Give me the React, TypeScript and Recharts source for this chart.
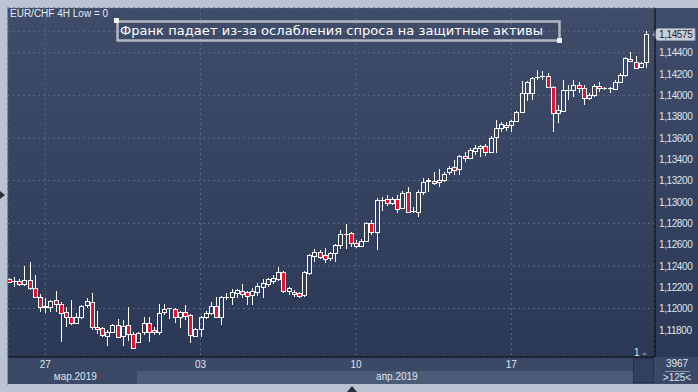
import { Bar, CartesianGrid, ComposedChart, ReferenceLine, XAxis, YAxis } from "recharts";

// EUR/CHF 4H candles (oldest first)
const openPrices = [
  1.12278, 1.12259, 1.12259, 1.12231, 1.12269, 1.12194, 1.12109, 1.12016, 1.12016, 1.12081,
  1.12044, 1.11969, 1.11922, 1.11866, 1.11922, 1.12034, 1.12063, 1.11828, 1.11819, 1.11744,
  1.11781, 1.11847, 1.11744, 1.11847, 1.11763, 1.11688, 1.11781, 1.11866, 1.118, 1.11781,
  1.11969, 1.12006, 1.11997, 1.11922, 1.11969, 1.11941, 1.11744, 1.11809, 1.11922, 1.11959,
  1.12025, 1.11922, 1.12109, 1.12109, 1.12147, 1.12166, 1.12156, 1.12128, 1.12156, 1.12203,
  1.12231, 1.12259, 1.12278, 1.12344, 1.12166, 1.12156, 1.12147, 1.12128, 1.12334, 1.12494,
  1.12531, 1.12503, 1.12475, 1.12522, 1.12597, 1.127, 1.12709, 1.12616, 1.12588, 1.12634,
  1.12803, 1.12719, 1.13019, 1.13028, 1.12991, 1.13028, 1.12944, 1.13094, 1.12916, 1.12906,
  1.13094, 1.13197, 1.13197, 1.13188, 1.13206, 1.13281, 1.13328, 1.13309, 1.13431, 1.13413,
  1.13478, 1.13506, 1.13525, 1.13469, 1.13609, 1.13694, 1.13722, 1.13722, 1.13759, 1.13844,
  1.14022, 1.14022, 1.14172, 1.14181, 1.14181, 1.14078, 1.13834, 1.13853, 1.1405, 1.1405,
  1.14097, 1.14069, 1.13975, 1.14003, 1.14088, 1.14069, 1.14069, 1.14059, 1.14125, 1.14191,
  1.14341, 1.14313, 1.14266, 1.14313,
];
const highPrices = [
  1.12288, 1.12297, 1.12278, 1.124, 1.12438, 1.12316, 1.12138, 1.121, 1.12081, 1.12166,
  1.12063, 1.12016, 1.12081, 1.11959, 1.12034, 1.121, 1.12147, 1.11978, 1.11828, 1.118,
  1.11856, 1.11903, 1.11894, 1.12016, 1.11781, 1.11781, 1.11922, 1.11922, 1.11828, 1.12044,
  1.12044, 1.1201, 1.12006, 1.11978, 1.12034, 1.1195, 1.11819, 1.11931, 1.11978, 1.12063,
  1.12109, 1.12119, 1.12147, 1.12184, 1.12184, 1.12231, 1.12166, 1.12194, 1.12241, 1.12278,
  1.12288, 1.12316, 1.12391, 1.1235, 1.12203, 1.12175, 1.12156, 1.12353, 1.12513, 1.12559,
  1.1255, 1.12569, 1.12531, 1.12606, 1.12738, 1.12794, 1.12719, 1.12644, 1.12653, 1.12813,
  1.12831, 1.13038, 1.13047, 1.13066, 1.13047, 1.13066, 1.13103, 1.13141, 1.12953, 1.13113,
  1.13225, 1.13225, 1.13281, 1.13309, 1.13281, 1.13338, 1.13394, 1.13441, 1.13469, 1.13506,
  1.13534, 1.13534, 1.13544, 1.13619, 1.13769, 1.1375, 1.1375, 1.13769, 1.13853, 1.14134,
  1.14134, 1.14172, 1.14238, 1.14228, 1.14209, 1.14088, 1.13909, 1.14144, 1.14097, 1.14144,
  1.14125, 1.14097, 1.14022, 1.14106, 1.14125, 1.14078, 1.14078, 1.14144, 1.14209, 1.14359,
  1.14406, 1.14369, 1.14313, 1.14603,
];
const lowPrices = [
  1.12241, 1.12203, 1.12213, 1.12213, 1.12175, 1.121, 1.11969, 1.11959, 1.11969, 1.11969,
  1.11688, 1.11828, 1.11847, 1.11856, 1.11903, 1.12006, 1.118, 1.11763, 1.11734, 1.1165,
  1.11772, 1.11725, 1.1165, 1.11697, 1.11622, 1.1168, 1.11753, 1.11688, 1.11753, 1.11753,
  1.11941, 1.11903, 1.11866, 1.11819, 1.11894, 1.11678, 1.11734, 1.11734, 1.11903, 1.11941,
  1.11913, 1.11847, 1.12081, 1.12034, 1.121, 1.121, 1.12034, 1.12034, 1.12119, 1.121,
  1.12203, 1.12231, 1.12259, 1.12147, 1.12128, 1.12109, 1.121, 1.12109, 1.12316, 1.12438,
  1.12466, 1.12428, 1.12447, 1.12438, 1.12559, 1.12559, 1.12578, 1.12569, 1.12578, 1.12625,
  1.12691, 1.1255, 1.12916, 1.12963, 1.12972, 1.12897, 1.12934, 1.12897, 1.12897, 1.12859,
  1.13066, 1.13094, 1.13159, 1.13141, 1.13188, 1.13253, 1.13253, 1.13253, 1.13375, 1.13403,
  1.13441, 1.13422, 1.13431, 1.13459, 1.13459, 1.13656, 1.13666, 1.13656, 1.1375, 1.1384,
  1.13947, 1.13956, 1.14144, 1.14144, 1.14069, 1.13656, 1.13741, 1.13844, 1.13956, 1.13984,
  1.14022, 1.13909, 1.13956, 1.13984, 1.14031, 1.1405, 1.14022, 1.1405, 1.14116, 1.14172,
  1.14313, 1.14256, 1.14256, 1.14256,
];
const closePrices = [
  1.1225, 1.12259, 1.12231, 1.12269, 1.12194, 1.12109, 1.12016, 1.12025, 1.12072, 1.12044,
  1.11959, 1.11922, 1.11866, 1.11922, 1.12025, 1.12072, 1.11828, 1.11809, 1.11753, 1.11781,
  1.11847, 1.11734, 1.11838, 1.11763, 1.11631, 1.11772, 1.11866, 1.11781, 1.11781, 1.11959,
  1.11997, 1.12006, 1.11922, 1.11969, 1.11931, 1.11753, 1.11809, 1.11922, 1.11959, 1.12025,
  1.11922, 1.12109, 1.12109, 1.12156, 1.12175, 1.12138, 1.12119, 1.12166, 1.12213, 1.12241,
  1.12278, 1.12288, 1.12344, 1.12166, 1.12194, 1.12138, 1.12119, 1.12344, 1.12503, 1.12531,
  1.12484, 1.12466, 1.12522, 1.12597, 1.127, 1.127, 1.12616, 1.12588, 1.12634, 1.12803,
  1.12719, 1.13019, 1.13019, 1.12991, 1.13028, 1.12934, 1.13084, 1.12906, 1.12916, 1.13094,
  1.13188, 1.13206, 1.13178, 1.13206, 1.13263, 1.13319, 1.133, 1.13431, 1.13413, 1.13488,
  1.13506, 1.13525, 1.13469, 1.136, 1.13694, 1.13731, 1.13703, 1.13759, 1.13844, 1.14022,
  1.14125, 1.14163, 1.14172, 1.14181, 1.14078, 1.13834, 1.13863, 1.1405, 1.1405, 1.14097,
  1.14069, 1.13975, 1.14003, 1.14088, 1.14069, 1.14069, 1.14069, 1.14125, 1.14191, 1.1435,
  1.14322, 1.14256, 1.14303, 1.14575,
];

const dayTicks = [7, 37, 67, 97];
const dayLabels = ["27", "03", "10", "17"];
const monthTicks = [12.8, 74.9];
const monthLabels = ["мар.2019", "апр.2019"];
const priceTicks = [
  1.118, 1.12, 1.122, 1.124, 1.126, 1.128, 1.13, 1.132, 1.134, 1.136, 1.138, 1.14, 1.142, 1.144, 1.146,
];
const lastPrice = 1.14575;

const candles = openPrices.map((open, i) => ({
  i,
  open,
  high: highPrices[i],
  low: lowPrices[i],
  close: closePrices[i],
  range: [lowPrices[i], highPrices[i]],
}));

const FONT = "'Liberation Sans', Arial, sans-serif";
const LABEL = "#dfe5ee";
const fmtPrice = (v: number) => v.toFixed(5).replace(".", ",");

function Candle(props: any) {
  const { x, y, width, height, payload } = props;
  const { open, close, high, low } = payload;
  const k = height / (high - low);
  const cx = Math.round(x + width / 2) + 0.5;
  const top = Math.round(y + (high - Math.max(open, close)) * k);
  const bot = Math.round(y + (high - Math.min(open, close)) * k);
  const yHigh = Math.round(y);
  const yLow = Math.round(y + height);
  const up = close >= open;
  const doji = bot - top < 1;
  return (
    <g>
      {top > yHigh && <line x1={cx} x2={cx} y1={yHigh} y2={top} stroke="#fff" />}
      {yLow > bot && <line x1={cx} x2={cx} y1={bot} y2={yLow} stroke="#fff" />}
      {doji ? (
        <line x1={cx - 2.5} x2={cx + 2.5} y1={top + 0.5} y2={top + 0.5} stroke="#fff" />
      ) : (
        <rect
          x={cx - 2}
          y={top + 0.5}
          width={4}
          height={bot - top}
          fill={up ? "none" : "#e8102e"}
          stroke="#fff"
        />
      )}
    </g>
  );
}

// last-price flag on the right scale
function PriceFlag(props: any) {
  const vb = props.viewBox || {};
  const yy = Math.round(vb.y) + 0.5;
  const x0 = vb.x + vb.width + 2;
  return (
    <g>
      <polygon
        points={`${x0 - 4},${yy} ${x0},${yy - 6} ${x0 + 38},${yy - 6} ${x0 + 38},${yy + 6} ${x0},${yy + 6}`}
        fill="#c9ced7"
        stroke="#8e96a6"
      />
      <text x={x0 + 2} y={yy + 3.5} fontSize={10} letterSpacing={-0.4} fontFamily={FONT} fill="#1c2232">
        {fmtPrice(lastPrice)}
      </text>
    </g>
  );
}

export default function App() {
  return (
    <div style={{ position: "absolute", left: 0, top: 0, width: 698, height: 392, background: "#b9c3d1", overflow: "hidden" }}>
      {/* panels behind the chart */}
      <div style={{ position: "absolute", left: 8, top: 8, width: 690, height: 349, background: "linear-gradient(#3f4c6a, #2b3856)" }} />
      <div style={{ position: "absolute", left: 8, top: 357, width: 690, height: 27, background: "#3b4866" }} />
      <div style={{ position: "absolute", left: 137, top: 371, width: 496, height: 13, background: "#4b5a77" }} />
      <div style={{ position: "absolute", left: 633, top: 358, width: 21, height: 25, background: "#33405d", border: "1px solid #26304a", boxSizing: "border-box" }} />
      <div style={{ position: "absolute", left: 7, top: 7, width: 1, height: 378, background: "#8a94a6" }} />

      <div style={{ position: "absolute", left: 0, top: 0 }}>
        <ComposedChart width={698} height={392} data={candles} margin={{ top: 8, right: 0, bottom: 8, left: 8 }}>
          <CartesianGrid stroke="#5a6989" strokeDasharray="2 3" />
          <XAxis
            dataKey="i"
            type="number"
            domain={[-0.19, 124.74]}
            allowDataOverflow
            ticks={dayTicks}
            tickFormatter={(v) => dayLabels[dayTicks.indexOf(v)] ?? ""}
            height={14}
            tickSize={0}
            tickMargin={4}
            axisLine={{ stroke: "#000" }}
            tick={{ fill: LABEL, fontSize: 10, fontFamily: FONT }}
          />
          <XAxis
            xAxisId="month"
            dataKey="i"
            type="number"
            domain={[-0.19, 124.74]}
            allowDataOverflow
            ticks={monthTicks}
            tickFormatter={(v) => monthLabels[monthTicks.indexOf(v)] ?? ""}
            height={13}
            tickSize={0}
            tickMargin={2}
            axisLine={false}
            tick={{ fill: LABEL, fontSize: 10, fontFamily: FONT }}
          />
          <YAxis
            orientation="right"
            type="number"
            domain={[1.115469, 1.148186]}
            allowDataOverflow
            ticks={priceTicks}
            tickFormatter={(v) => (Number(v) > lastPrice ? "" : fmtPrice(Number(v)))}
            width={43}
            tickSize={0}
            tickMargin={4}
            axisLine={{ stroke: "#000" }}
            tick={{ fill: LABEL, fontSize: 10, fontFamily: FONT, textAnchor: "start", letterSpacing: -0.4 }}
          />
          <Bar dataKey="range" barSize={5} shape={<Candle />} isAnimationActive={false} />
          <ReferenceLine y={lastPrice} stroke="none" ifOverflow="visible" label={<PriceFlag />} />
        </ComposedChart>
      </div>

      {/* chart furniture drawn on top */}
      <svg width={698} height={392} style={{ position: "absolute", left: 0, top: 0, pointerEvents: "none" }}>
        <text x={10} y={17} fontSize={10} fontFamily={FONT} fill="#e6ebf3">EUR/CHF 4H Low = 0</text>
        <rect x={117.5} y={21.5} width={442} height={19} fill="none" stroke="#b4b8c2" strokeWidth={2.5} />
        <rect x={114} y={18} width={5} height={5} fill="#f2f2f2" />
        <rect x={557} y={38} width={5} height={5} fill="#f2f2f2" />
        <text x={120} y={35} fontSize={13} fontFamily="'DejaVu Sans', sans-serif" fill="#ffffff" textLength={423} lengthAdjust="spacing">
          Франк падает из-за ослабления спроса на защитные активы
        </text>
        <text x={634} y={356} fontSize={10} fontFamily={FONT} fill={LABEL}>1</text>
        <polygon points="642,355 644.5,352 647,355" fill="#6f7b92" />
        <text x={677} y={367} fontSize={10} fontFamily={FONT} fill={LABEL} textAnchor="middle">3967</text>
        <line x1={665} x2={690} y1={371.5} y2={371.5} stroke="#8c98ae" />
        <text x={677} y={381} fontSize={10} fontFamily={FONT} fill={LABEL} textAnchor="middle">&gt;125&lt;</text>
        <polygon points="0,191 5,195 0,199" fill="#2a2f3a" />
        <polygon points="347,392 352,386 357,392" fill="#2a2f3a" />
      </svg>
    </div>
  );
}
